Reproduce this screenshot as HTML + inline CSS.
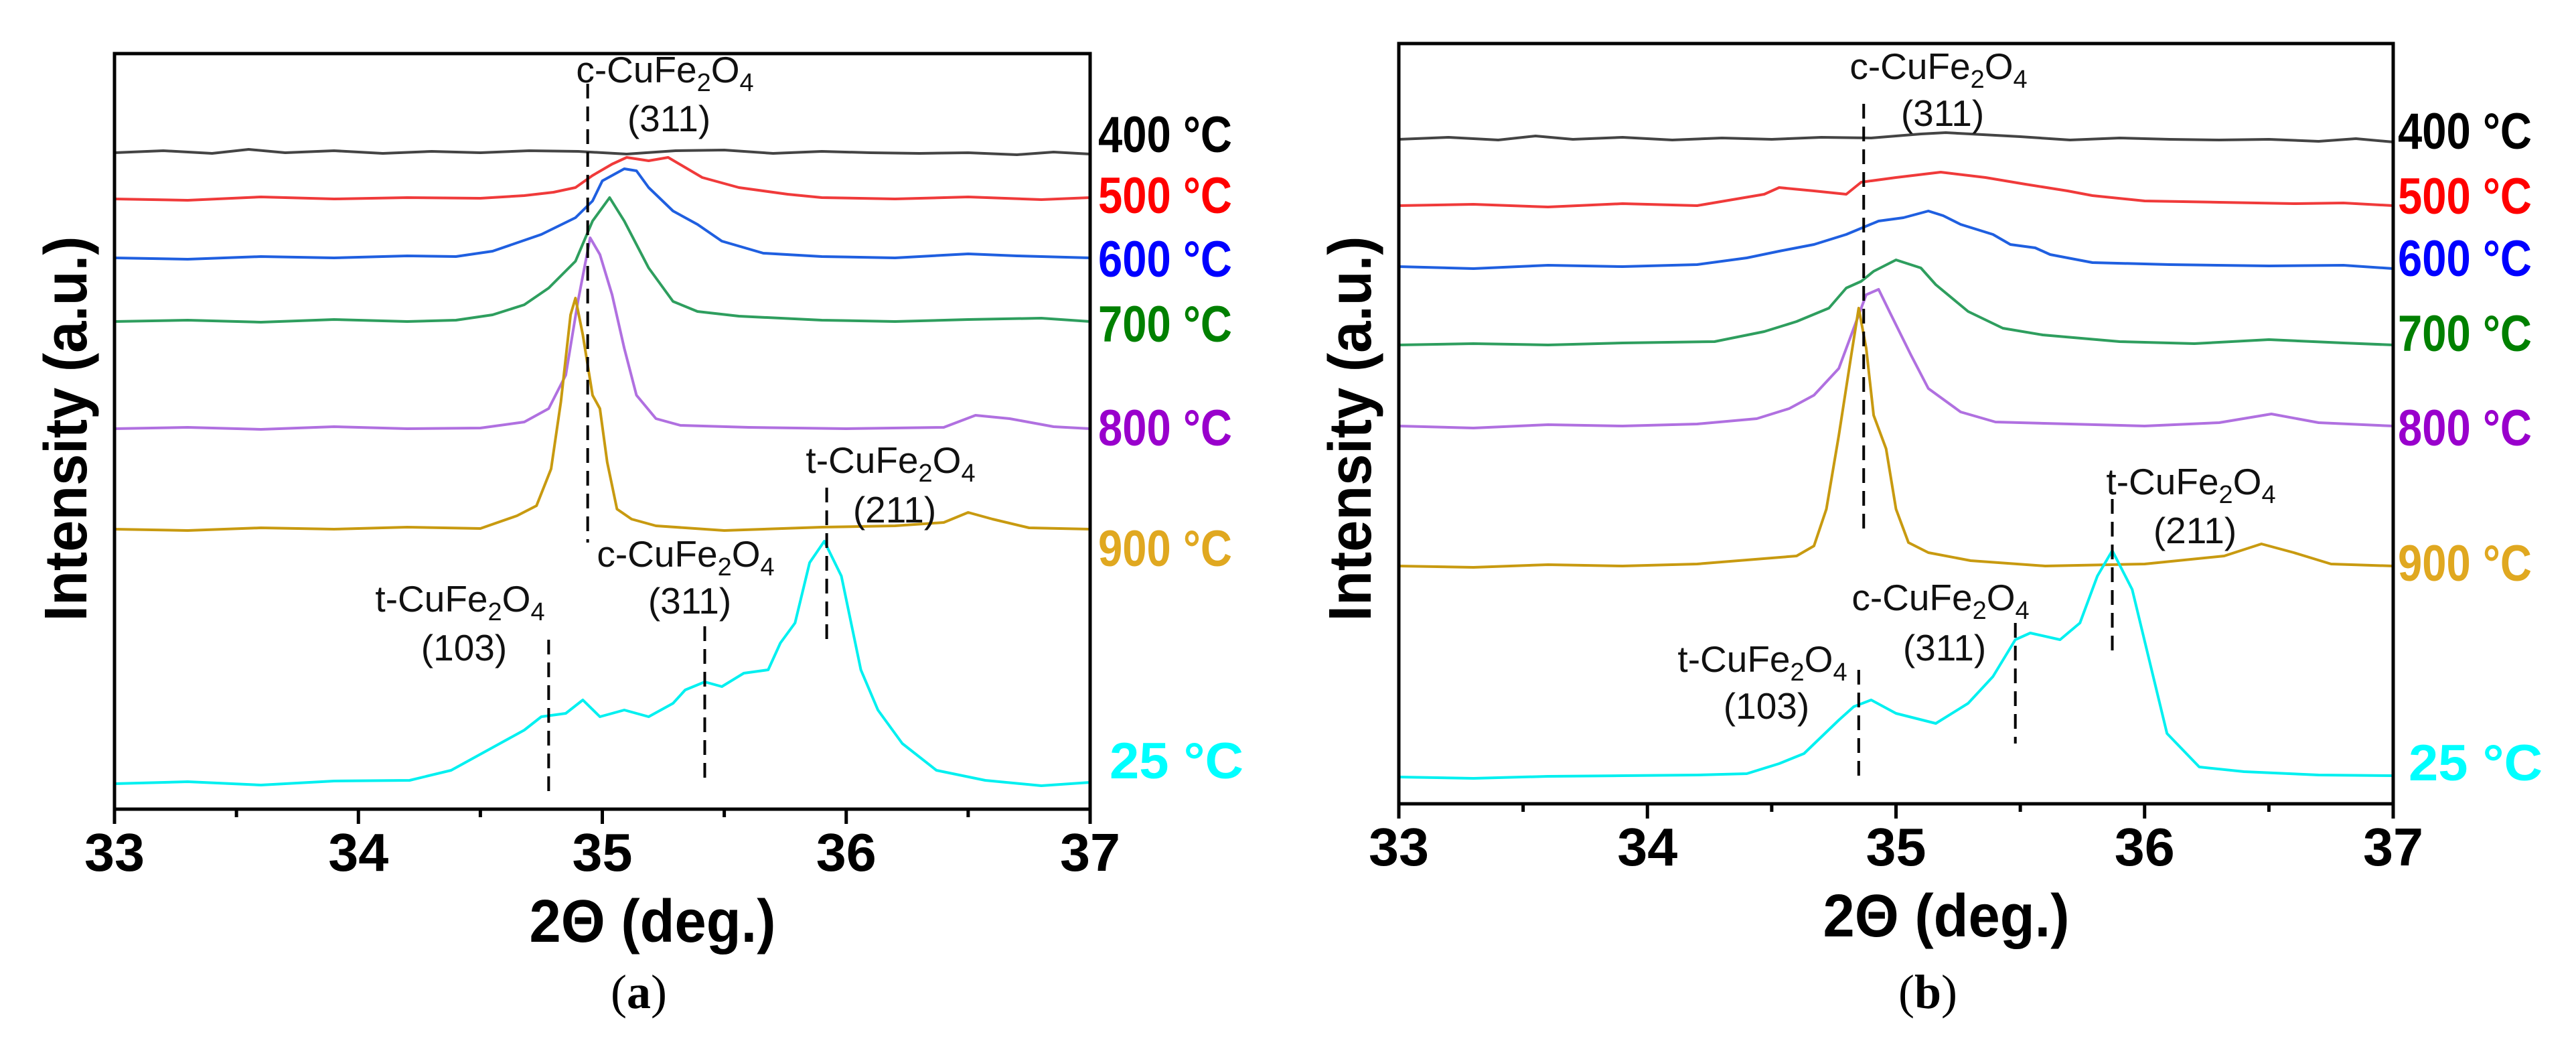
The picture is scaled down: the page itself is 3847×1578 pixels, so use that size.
<!DOCTYPE html>
<html><head><meta charset="utf-8"><style>
html,body{margin:0;padding:0;background:#fff;}
svg{display:block;}
.ann{font-family:"Liberation Sans Narrow","Liberation Sans",sans-serif;font-size:55px;fill:#111;}
.lab{font-family:"Liberation Sans Narrow","Liberation Sans",sans-serif;font-weight:bold;font-size:76px;}
.tick{font-family:"Liberation Sans",sans-serif;font-weight:bold;font-size:80px;fill:#000;}
.axt{font-family:"Liberation Sans",sans-serif;font-weight:bold;font-size:90px;fill:#000;}
.cap{font-family:"Liberation Serif",serif;font-size:72px;fill:#000;}
</style></head><body>
<svg id="fig" width="3847" height="1578" viewBox="0 0 3847 1578" xmlns="http://www.w3.org/2000/svg"></svg>
<script>
// ---- data (2θ in degrees, intensity in a.u. above each trace's offset) ----
const seriesNames = ["400 °C","500 °C","600 °C","700 °C","800 °C","900 °C","25 °C"];
const lineColors = ["#444444","#f03a3a","#1f5fe0","#2e9e5e","#b070e0","#c89a10","#00f0f0"];
const labelColors = ["#000000","#ff0000","#0000ff","#008000","#9900cc","#e0a820","#00ffff"];
const xTicks = [33,34,35,36,37];

// panel (a)
const aOffsets = [942,873,785,690,530,380,0];
const a400x = [33,33.2,33.4,33.55,33.7,33.9,34.1,34.3,34.5,34.7,34.9,35.1,35.3,35.5,35.7,35.9,36.1,36.3,36.5,36.7,36.85,37];
const a400y = [0,3,-1,5,0,3,-1,2,0,3,2,-2,3,4,-1,2,0,-1,0,-3,1,-2];
const a500x = [33,33.3,33.6,33.9,34.2,34.5,34.68,34.8,34.89,34.96,35.04,35.1,35.19,35.27,35.34,35.41,35.56,35.76,35.9,36.2,36.5,36.8,37];
const a500y = [0,-2,3,0,2,1,5,10,17,35,52,62,57,62,47,32,17,7,2,0,3,-1,2];
const a600x = [33,33.3,33.6,33.9,34.2,34.4,34.55,34.75,34.89,34.96,35.0,35.09,35.14,35.19,35.29,35.39,35.49,35.66,35.9,36.2,36.5,36.7,37];
const a600y = [0,-2,2,0,3,2,10,35,60,85,115,133,130,105,70,50,25,7,2,0,6,3,0];
const a700x = [33,33.3,33.6,33.9,34.2,34.4,34.55,34.68,34.78,34.89,34.96,35.03,35.09,35.19,35.29,35.39,35.56,35.9,36.2,36.5,36.8,37];
const a700y = [0,2,-1,3,0,2,10,25,50,90,150,185,150,80,30,15,8,2,0,3,5,0];
const a800x = [33,33.3,33.6,33.9,34.2,34.5,34.68,34.78,34.85,34.9,34.95,34.99,35.04,35.09,35.14,35.22,35.32,35.6,36,36.4,36.53,36.67,36.85,37];
const a800y = [0,2,-1,3,0,1,10,30,80,190,285,260,200,120,50,15,5,2,0,2,20,15,3,0];
const a900x = [33,33.3,33.6,33.9,34.2,34.5,34.65,34.73,34.79,34.83,34.87,34.89,34.92,34.96,34.99,35.02,35.06,35.12,35.22,35.5,35.9,36.2,36.4,36.5,36.6,36.75,37];
const a900y = [0,-2,2,0,3,1,20,35,90,190,320,345,290,200,180,100,30,15,5,-2,3,5,10,25,15,2,0];
const a25x = [33,33.3,33.6,33.9,34.21,34.38,34.48,34.58,34.68,34.75,34.85,34.92,34.99,35.09,35.19,35.29,35.34,35.42,35.49,35.58,35.68,35.73,35.79,35.85,35.91,35.98,36.06,36.13,36.23,36.37,36.57,36.8,37];
const a25y = [0,3,-2,4,5,20,40,60,80,100,105,125,100,110,100,120,140,152,145,165,170,210,240,330,362,310,170,110,60,20,5,-3,2];

// panel (b)
const bOffsets = [952,853,762,645,524,315,0];
const b400x = [33,33.2,33.4,33.55,33.7,33.9,34.1,34.3,34.5,34.7,34.9,35.1,35.2,35.3,35.5,35.7,35.9,36.1,36.3,36.5,36.7,36.85,37];
const b400y = [0,3,-1,5,0,3,-1,2,0,3,2,8,10,8,4,-1,2,0,-1,0,-3,1,-4];
const b500x = [33,33.3,33.6,33.9,34.2,34.47,34.53,34.67,34.8,34.86,35.0,35.18,35.36,35.52,35.69,35.79,36.0,36.3,36.6,36.8,37];
const b500y = [0,2,-2,3,0,17,27,22,17,35,42,50,42,32,22,15,7,5,3,4,0];
const b600x = [33,33.3,33.6,33.9,34.2,34.4,34.53,34.67,34.8,34.93,35.03,35.13,35.19,35.26,35.39,35.46,35.56,35.62,35.79,36.1,36.5,36.8,37];
const b600y = [0,-3,2,0,3,13,23,33,48,68,73,83,76,63,48,33,28,18,6,3,1,2,-3];
const b700x = [33,33.3,33.6,33.9,34.27,34.47,34.6,34.73,34.8,34.86,34.91,35.0,35.1,35.16,35.29,35.43,35.59,35.9,36.2,36.5,36.8,37];
const b700y = [0,2,0,3,5,20,35,55,85,95,110,127,115,90,50,25,15,5,2,8,3,0];
const b800x = [33,33.3,33.6,33.9,34.2,34.44,34.57,34.67,34.77,34.83,34.88,34.93,34.98,35.06,35.13,35.26,35.4,35.7,36.0,36.3,36.51,36.7,37];
const b800y = [0,-3,2,0,3,11,26,46,86,146,196,204,166,106,56,21,6,3,0,5,18,5,0];
const b900x = [33,33.3,33.6,33.9,34.2,34.6,34.67,34.72,34.77,34.82,34.85,34.88,34.91,34.96,35.0,35.05,35.13,35.3,35.6,36.0,36.32,36.47,36.6,36.75,37];
const b900y = [0,-2,2,0,3,15,30,85,195,315,385,325,225,175,85,35,20,8,0,3,15,33,20,3,0];
const b25x = [33,33.3,33.6,33.9,34.2,34.4,34.53,34.63,34.7,34.77,34.83,34.9,35.0,35.16,35.29,35.39,35.48,35.54,35.66,35.74,35.81,35.87,35.95,36.09,36.22,36.4,36.7,37];
const b25y = [0,-2,1,2,3,5,20,35,60,85,105,115,95,80,110,150,205,215,205,230,300,338,280,65,15,8,3,2];

// reference lines (peak positions, 2θ)
const aRefAngles = [34.94,35.92,35.42,34.78];
const bRefAngles = [34.87,35.87,35.48,34.85];

const NS="http://www.w3.org/2000/svg";
const svg=document.getElementById('fig');
function mk(tag,attrs,parent){const e=document.createElementNS(NS,tag);for(const k in attrs)e.setAttribute(k,attrs[k]);(parent||svg).appendChild(e);return e;}

function panel(P){
  const g=mk('g',{});
  
  
  const xs=v=>P.x0+(v-33)/4*(P.x1-P.x0);
  const ys=v=>P.base-v;
  P.series.forEach((s,i)=>{
    let d='';
    s[0].forEach((a,j)=>{d+=(j?'L':'M')+xs(a).toFixed(1)+','+ys(P.offsets[i]+s[1][j]).toFixed(1);});
    const p=mk('path',{d:d,fill:'none',stroke:lineColors[i],'stroke-width':4,'stroke-linejoin':'round'},g);
    
    
    const t=mk('text',{x:P.labX[i],y:P.labY[i],class:'lab',fill:labelColors[i],textLength:200,lengthAdjust:'spacingAndGlyphs'},g);
    t.textContent=seriesNames[i];
    
    
  });
  P.refs.forEach((r,k)=>{
    const ln=mk('line',{x1:xs(P.refAngles[k]),x2:xs(P.refAngles[k]),y1:r.y1,y2:r.y2,stroke:'#000','stroke-width':4,'stroke-dasharray':'22,12'},g);
    
    
    const t1=mk('text',{x:r.tx,y:r.ty1,class:'ann','text-anchor':'middle'},g);
    t1.innerHTML=r.ph+'-CuFe<tspan font-size="38" dy="13">2</tspan><tspan dy="-13">O</tspan><tspan font-size="38" dy="13">4</tspan>';
    
    
    const t2=mk('text',{x:r.tx+6,y:r.ty2,class:'ann','text-anchor':'middle'},g);
    t2.textContent=r.hkl;
    
    
  });
  const fr=mk('rect',{x:P.x0,y:P.top,width:P.x1-P.x0,height:P.bot-P.top,fill:'none',stroke:'#000','stroke-width':5},g);
  
  
  for(let v=33;v<=37.001;v+=0.5){
    const major=Math.abs(v-Math.round(v))<1e-6;
    const tk=mk('line',{x1:xs(v),x2:xs(v),y1:P.bot,y2:P.bot+(major?22:12),stroke:'#000','stroke-width':5},g);
    
    
  }
  xTicks.forEach(v=>{
    const t=mk('text',{x:xs(v),y:P.bot+92,class:'tick','text-anchor':'middle',textLength:90,lengthAdjust:'spacingAndGlyphs'},g);
    t.textContent=String(v);
    
    
  });
  const xl=mk('text',{x:(P.x0+P.x1)/2+75,y:P.bot+198,class:'axt','text-anchor':'middle',textLength:368,lengthAdjust:'spacingAndGlyphs'},g);
  xl.textContent='2Θ (deg.)';
  
  
  const yl=mk('text',{x:0,y:0,class:'axt','text-anchor':'middle',textLength:575,lengthAdjust:'spacingAndGlyphs',transform:'translate('+(P.x0-42)+',640) rotate(-90)'},g);
  yl.textContent='Intensity (a.u.)';
  
  
  const cp=mk('text',{x:P.capX,y:1505,class:'cap','text-anchor':'middle'},g);
  cp.innerHTML=P.cap;
  
  
}

panel({name:'panel-a',x0:171,x1:1628,top:80,bot:1208,base:1170,offsets:aOffsets,
  series:[[a400x,a400y],[a500x,a500y],[a600x,a600y],[a700x,a700y],[a800x,a800y],[a900x,a900y],[a25x,a25y]],
  labX:[1640,1640,1640,1640,1640,1640,1657],labY:[227,318,413,510,665,845,1162],
  refAngles:aRefAngles,
  refs:[{y1:125,y2:810,tx:993,ty1:123,ty2:196,ph:'c',hkl:'(311)'},
        {y1:728,y2:960,tx:1330,ty1:706,ty2:780,ph:'t',hkl:'(211)'},
        {y1:935,y2:1165,tx:1024,ty1:846,ty2:916,ph:'c',hkl:'(311)'},
        {y1:955,y2:1185,tx:687,ty1:913,ty2:986,ph:'t',hkl:'(103)'}],
  capX:954,cap:'(<tspan font-weight="bold">a</tspan>)'});

panel({name:'panel-b',x0:2089,x1:3574,top:65,bot:1200,base:1160,offsets:bOffsets,
  series:[[b400x,b400y],[b500x,b500y],[b600x,b600y],[b700x,b700y],[b800x,b800y],[b900x,b900y],[b25x,b25y]],
  labX:[3581,3581,3581,3581,3581,3581,3597],labY:[222,319,412,524,665,867,1165],
  refAngles:bRefAngles,
  refs:[{y1:155,y2:790,tx:2895,ty1:118,ty2:188,ph:'c',hkl:'(311)'},
        {y1:745,y2:975,tx:3272,ty1:738,ty2:811,ph:'t',hkl:'(211)'},
        {y1:930,y2:1110,tx:2898,ty1:911,ty2:986,ph:'c',hkl:'(311)'},
        {y1:1000,y2:1170,tx:2632,ty1:1003,ty2:1073,ph:'t',hkl:'(103)'}],
  capX:2879,cap:'(<tspan font-weight="bold">b</tspan>)'});
</script>
</body></html>
